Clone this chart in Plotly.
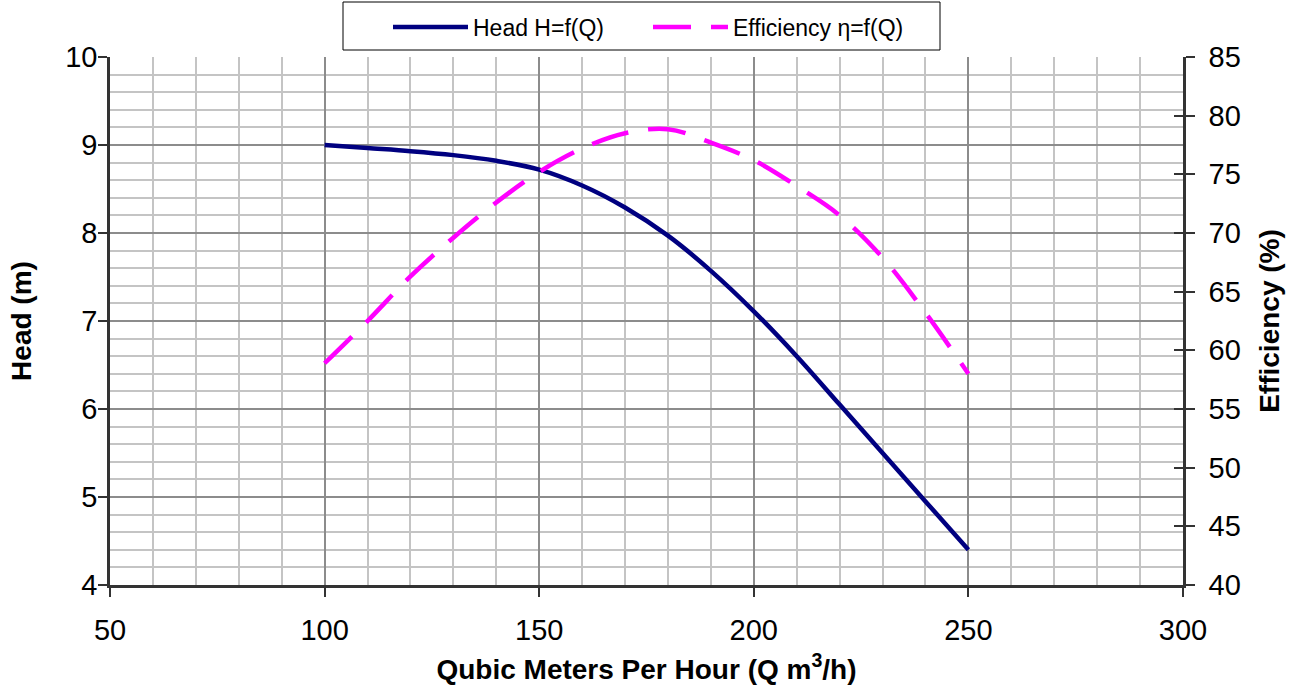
import plotly.graph_objects as go

flow = [100, 110, 120, 130, 140, 150, 160, 170, 180, 190, 200, 210, 220, 230, 240, 250]
head = [9.0, 8.965, 8.93, 8.885, 8.82, 8.72, 8.54, 8.29, 7.97, 7.57, 7.11, 6.60, 6.05, 5.50, 4.95, 4.40]
efficiency = [58.9, 62.5, 66.3, 69.6, 72.6, 75.2, 77.2, 78.5, 78.85, 77.7, 76.2, 74.0, 71.5, 67.9, 63.2, 58.0]

x_ticks = [50, 100, 150, 200, 250, 300]
head_ticks = [4, 5, 6, 7, 8, 9, 10]
eff_ticks = [40, 45, 50, 55, 60, 65, 70, 75, 80, 85]

FONT = "Liberation Sans, Arial, sans-serif"
MAJOR = "#8c8c8c"
MINOR = "#c4c4c4"

W, H = 1295, 693
L, R, T, B = 110, 112, 57, 108
PW, PH = W - L - R, H - T - B


def px_x(p):
    return (p - L) / PW


def px_y(p):
    return (H - B - p) / PH


fig = go.Figure()
fig.add_trace(go.Scatter(
    x=flow, y=head, name="Head H=f(Q)", mode="lines",
    line=dict(color="#000080", width=4.5, shape="spline", smoothing=1.0),
    yaxis="y", legend="legend"))
fig.add_trace(go.Scatter(
    x=flow, y=efficiency, name="Efficiency \u03b7=f(Q)", mode="lines",
    line=dict(color="#ff00ff", width=4.5, shape="spline", smoothing=1.0, dash="38px,20px"),
    yaxis="y2", legend="legend2"))
# empty helper trace so the inner tick set of the right axis is drawn
fig.add_trace(go.Scatter(x=[], y=[], yaxis="y3", showlegend=False, hoverinfo="skip"))

leg_common = dict(orientation="h", xanchor="left", yanchor="middle",
                  borderwidth=0, bgcolor="rgba(0,0,0,0)",
                  font=dict(size=23, family=FONT), itemwidth=75)

fig.update_layout(
    width=W, height=H,
    margin=dict(l=L, r=R, t=T, b=B, autoexpand=False),
    paper_bgcolor="white", plot_bgcolor="white",
    font=dict(family=FONT, color="black", size=29),
    showlegend=True,
    legend=dict(x=px_x(388), y=px_y(27), **leg_common),
    legend2=dict(x=px_x(648), y=px_y(27), **leg_common),
    shapes=[dict(type="rect", xref="paper", yref="paper",
                 x0=px_x(343), x1=px_x(940), y0=px_y(50), y1=px_y(2),
                 line=dict(color="black", width=1), fillcolor="rgba(0,0,0,0)")],
    xaxis=dict(
        range=[50, 300], tickvals=x_ticks, ticktext=[str(v) for v in x_ticks],
        showgrid=True, gridcolor=MAJOR, gridwidth=1.5,
        minor=dict(dtick=10, showgrid=True, gridcolor=MINOR, gridwidth=1.5, ticks=""),
        ticks="outside", ticklen=9, tickcolor="#333", tickwidth=1.5,
        showline=True, linecolor="#333", linewidth=2.5, mirror=False,
        tickfont=dict(size=29), zeroline=False, automargin=False, ticklabelstandoff=8,
        title=dict(text="<b>Qubic Meters Per Hour (Q m<sup>3</sup>/h)</b>", font=dict(size=28), standoff=15)),
    yaxis=dict(
        range=[4, 10], tickvals=head_ticks,
        showgrid=True, gridcolor=MAJOR, gridwidth=1.5,
        minor=dict(dtick=0.2, showgrid=True, gridcolor=MINOR, gridwidth=1.5, ticks=""),
        ticks="outside", ticklen=9, tickcolor="#333", tickwidth=1.5,
        showline=True, linecolor="#333", linewidth=2.5,
        tickfont=dict(size=29), zeroline=False, automargin=False, ticklabelstandoff=-5,
        title=dict(text="<b>Head (m)</b>", font=dict(size=28), standoff=26)),
    yaxis2=dict(
        range=[40, 85], tickvals=eff_ticks, overlaying="y", side="right",
        showgrid=False, zeroline=False, automargin=False, ticklabelstandoff=8,
        ticks="outside", ticklen=9, tickcolor="#333", tickwidth=1.5,
        showline=True, linecolor="#333", linewidth=2.5,
        tickfont=dict(size=29),
        title=dict(text="<b>Efficiency (%)</b>", font=dict(size=28), standoff=20)),
    yaxis3=dict(
        range=[40, 85], tickvals=eff_ticks, overlaying="y", side="right",
        showgrid=False, zeroline=False, showticklabels=False, automargin=False,
        ticks="inside", ticklen=9, tickcolor="#333", tickwidth=1.5,
        showline=False),
)

fig.write_html("out.html", config={"displayModeBar": False},
               post_script="document.body.style.margin='0px';")
